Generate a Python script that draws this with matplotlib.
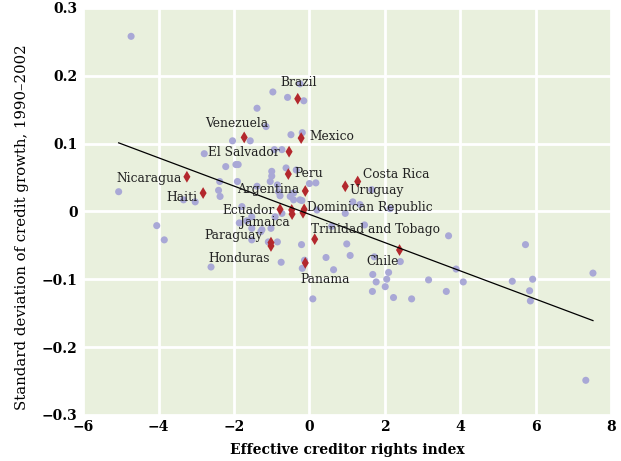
import matplotlib.pyplot as plt

# other countries (lavender dots)
other_x = [-4.73, -5.06, -3.34, -3.03, -2.79, -2.38, -2.41, -2.37, -2.22, -2.04,
           -1.95, -1.89, -1.91, -1.57, -1.39, -1.15, -0.97, -0.58, -0.25, -0.15,
           -0.49, -0.19, -0.93, -0.73, -1.00, -1.00, -0.62, -0.35, -1.04, -0.85,
           -0.82, -0.78, -1.39, -0.51, -0.42, -0.42, -0.25, -0.20, 0.00, 0.17,
           0.20, -1.79, -1.86, -1.66, -1.53, -1.53, -1.53, -1.29, -1.26, -1.02,
           -0.91, -1.09, -0.85, -0.75, -0.21, -0.13, -0.19, 0.09, -4.05, -3.85,
           -2.61, -0.73, 0.99, 1.08, 0.44, 0.64, 1.72, 1.68, 1.77, 1.67,
           2.10, 2.05, 2.01, 2.23, 2.71, 2.41, 3.16, 3.69, 3.89, 4.08,
           3.63, 5.38, 5.73, 5.92, 5.84, 5.86, 7.52, 7.33, 1.46, 0.95,
           1.15, 1.34, 2.14, 1.65, 0.59]
other_y = [0.258, 0.029, 0.017, 0.014, 0.085, 0.044, 0.031, 0.022, 0.066, 0.104,
           0.069, 0.069, 0.044, 0.104, 0.152, 0.125, 0.176, 0.168, 0.188, 0.163,
           0.113, 0.116, 0.091, 0.091, 0.059, 0.052, 0.064, 0.061, 0.044, 0.039,
           0.029, 0.023, 0.037, 0.022, 0.027, 0.017, 0.017, 0.016, 0.041, 0.042,
           0.002, 0.007, -0.017, -0.014, -0.008, -0.025, -0.042, -0.030, -0.027, -0.025,
           -0.008, -0.045, -0.045, -0.075, -0.049, -0.072, -0.084, -0.129, -0.021, -0.042,
           -0.082, -0.003, -0.048, -0.065, -0.068, -0.086, -0.067, -0.093, -0.104, -0.118,
           -0.090, -0.100, -0.111, -0.127, -0.129, -0.074, -0.101, -0.036, -0.085, -0.104,
           -0.118, -0.103, -0.049, -0.100, -0.117, -0.132, -0.091, -0.249, -0.020, -0.003,
           0.014, 0.010, 0.004, 0.032, -0.022]

# Latin America and Caribbean (red diamonds)
latam_x = [-0.31, -0.22, -1.73, -0.54, -0.56, -3.25, -2.82, -0.11, 1.28, 0.95,
           -0.78, -0.47, -0.46, -0.14, -0.17, -1.02, -1.02, 0.14, -0.11, 2.39]
latam_y = [0.166, 0.108, 0.109, 0.088, 0.055, 0.051, 0.027, 0.030, 0.044, 0.037,
           0.003, 0.002, -0.004, 0.003, -0.002, -0.046, -0.051, -0.041, -0.076, -0.057]

# country labels
label_names = ['Brazil', 'Venezuela', 'Mexico', 'El Salvador', 'Nicaragua', 'Haiti',
               'Peru', 'Argentina', 'Costa Rica', 'Uruguay', 'Dominican Republic',
               'Ecuador', 'Jamaica', 'Paraguay', 'Honduras', 'Trinidad and Tobago',
               'Chile', 'Panama']
label_x = [-0.78, -2.77, 0.00, -2.68, -5.13, -3.80, -0.40, -1.91, 1.41, 1.06,
           -0.07, -2.32, -1.84, -2.79, -2.68, 0.05, 1.50, -0.25]
label_y = [0.190, 0.129, 0.110, 0.087, 0.049, 0.020, 0.056, 0.032, 0.054, 0.031,
           0.006, 0.002, -0.0165, -0.035, -0.070, -0.026, -0.074, -0.101]

# fitted line end points
fit_x = [-5.06, 7.52]
fit_y = [0.101, -0.161]

xticks = [-6, -4, -2, 0, 2, 4, 6, 8]
yticks = [-0.3, -0.2, -0.1, 0, 0.1, 0.2, 0.3]
ytick_labels = ['\u22120.3', '\u22120.2', '\u22120.1', '0', '0.1', '0.2', '0.3']
xtick_labels = ['\u22126', '\u22124', '\u22122', '0', '2', '4', '6', '8']

plt.rcParams['font.family'] = 'DejaVu Serif'

fig = plt.figure(figsize=(6.21, 4.61), dpi=100)
ax = fig.add_axes([0.134, 0.100, 0.850, 0.883])
ax.set_facecolor('#e9f0dd')

ax.scatter(other_x, other_y, s=26, color='#a9a8d6', edgecolors='none', zorder=3)
ax.scatter(latam_x, latam_y, s=36, marker='d', color='#b3282d', edgecolors='none', zorder=4)
ax.plot(fit_x, fit_y, color='black', linewidth=0.9, zorder=5)

for name, lx, ly in zip(label_names, label_x, label_y):
    ax.text(lx, ly, name, fontsize=8.8, color='#222222', ha='left', va='center', zorder=6)

ax.set_xlim(-6, 8)
ax.set_ylim(-0.3, 0.3)
ax.set_xticks(xticks)
ax.set_xticklabels(xtick_labels)
ax.set_yticks(yticks)
ax.set_yticklabels(ytick_labels)
ax.tick_params(length=0, labelsize=10, pad=4)
for lab in ax.get_xticklabels() + ax.get_yticklabels():
    lab.set_fontweight('bold')

ax.grid(True, color='white', linewidth=2)
ax.set_axisbelow(True)
for s in ax.spines.values():
    s.set_visible(False)

ax.set_xlabel('Effective creditor rights index', fontsize=10, fontweight='bold', labelpad=6)
ax.set_ylabel('Standard deviation of credit growth, 1990\u20132002', fontsize=10.7)
ax.yaxis.set_label_coords(-0.102, 0.462)

plt.savefig('out.png', dpi=100)
